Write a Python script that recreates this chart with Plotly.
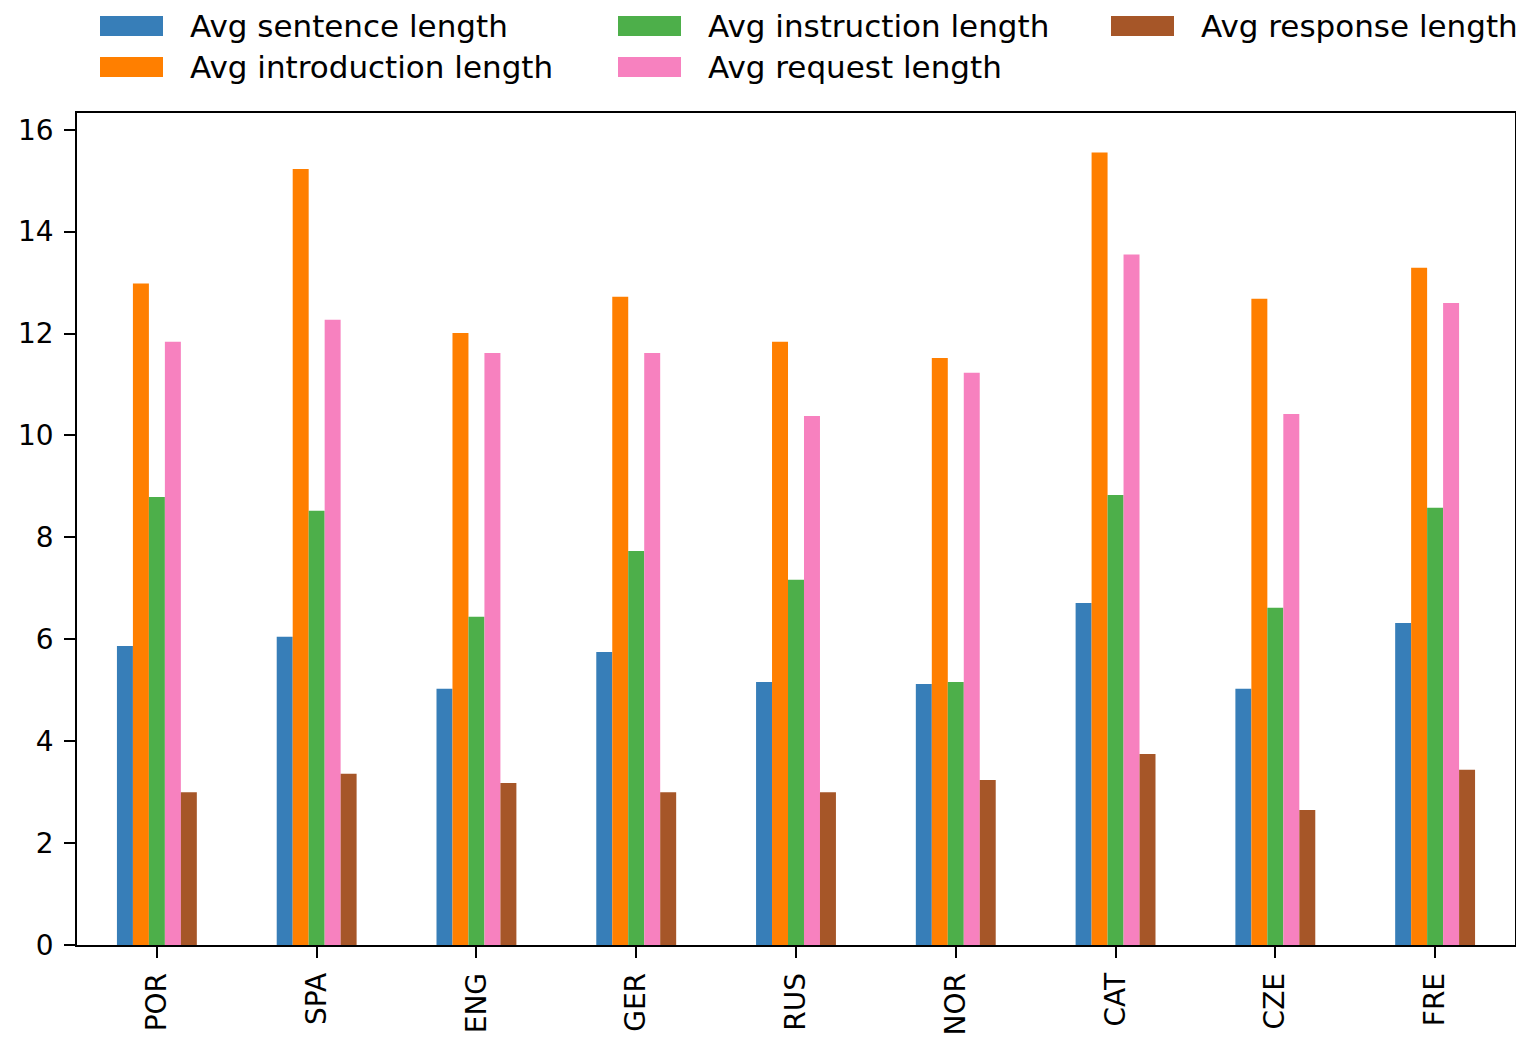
import plotly.graph_objects as go

languages = ["POR", "SPA", "ENG", "GER", "RUS", "NOR", "CAT", "CZE", "FRE"]
series_names = ["Avg sentence length", "Avg introduction length", "Avg instruction length",
                "Avg request length", "Avg response length"]
avg_sentence = [5.87, 6.05, 5.03, 5.75, 5.16, 5.12, 6.71, 5.03, 6.32]
avg_introduction = [12.98, 15.23, 12.01, 12.72, 11.84, 11.52, 15.55, 12.68, 13.29]
avg_instruction = [8.79, 8.52, 6.44, 7.73, 7.17, 5.16, 8.83, 6.62, 8.58]
avg_request = [11.84, 12.27, 11.62, 11.62, 10.38, 11.23, 13.55, 10.42, 12.60]
avg_response = [3.00, 3.36, 3.18, 3.00, 3.00, 3.24, 3.75, 2.65, 3.44]
y_ticks = [0, 2, 4, 6, 8, 10, 12, 14, 16]

series_values = [avg_sentence, avg_introduction, avg_instruction, avg_request, avg_response]
colors = ["#377eb8", "#ff7f00", "#4daf4a", "#f781bf", "#a65628"]

OFF = 8  # page body margin
W, H = 1516, 1034
L, T = 77 - OFF, 113 - OFF
R = W - (1515 - OFF)
B = H - (945 - OFF)
pw, ph = W - L - R, H - T - B
FONT = "DejaVu Sans"
FS = 28
FS_LEG = 31

fig = go.Figure()
for name, vals, col in zip(series_names, series_values, colors):
    fig.add_trace(go.Bar(x=languages, y=vals, name=name, marker=dict(color=col, line=dict(width=0)),
                         showlegend=False))

ymax = max(max(v) for v in series_values) * 1.05

fig.update_layout(
    width=W, height=H,
    margin=dict(l=L, r=R, t=T, b=B, pad=0),
    paper_bgcolor="white", plot_bgcolor="white",
    barmode="group", bargap=0.5, bargroupgap=0,
    font=dict(family=FONT, size=FS, color="black"),
)
fig.update_xaxes(range=[-0.5, len(languages) - 0.5], showline=True, mirror=True, linecolor="black",
                 linewidth=1.5, ticks="outside", ticklen=11, tickwidth=1.5, tickcolor="black",
                 tickangle=-90, showgrid=False, zeroline=False, ticklabelstandoff=4,
                 automargin=False,
                 tickfont=dict(family=FONT, size=FS, color="black"))
fig.update_yaxes(range=[0, ymax], tickvals=y_ticks, showline=True, mirror=True, linecolor="black",
                 linewidth=1.5, ticks="outside", ticklen=11, tickwidth=1.5, tickcolor="black",
                 showgrid=False, zeroline=False, ticklabelstandoff=5, automargin=False,
                 tickfont=dict(family=FONT, size=FS, color="black"))

# custom legend (matplotlib style, 3 columns, column-major order); positions in screen px
def px_x(p):
    return (p - OFF - L) / pw

def px_y(p):
    return (H - B - (p - OFF)) / ph

col_swatch_x = [100, 618, 1111]
row_y = [26, 67]
sw_w, sw_h, txt_gap = 63, 20, 25
for i, (name, col) in enumerate(zip(series_names, colors)):
    c, r = i // 2, i % 2
    x0 = col_swatch_x[c]
    yc = row_y[r]
    fig.add_shape(type="rect", xref="paper", yref="paper",
                  x0=px_x(x0), x1=px_x(x0 + sw_w), y0=px_y(yc + sw_h / 2), y1=px_y(yc - sw_h / 2),
                  fillcolor=col, line=dict(width=0))
    fig.add_annotation(xref="paper", yref="paper", x=px_x(x0 + sw_w + txt_gap), y=px_y(yc),
                       text=name, showarrow=False, xanchor="left", yanchor="middle",
                       font=dict(family=FONT, size=FS_LEG, color="black"))

fig.write_html("out.html")
